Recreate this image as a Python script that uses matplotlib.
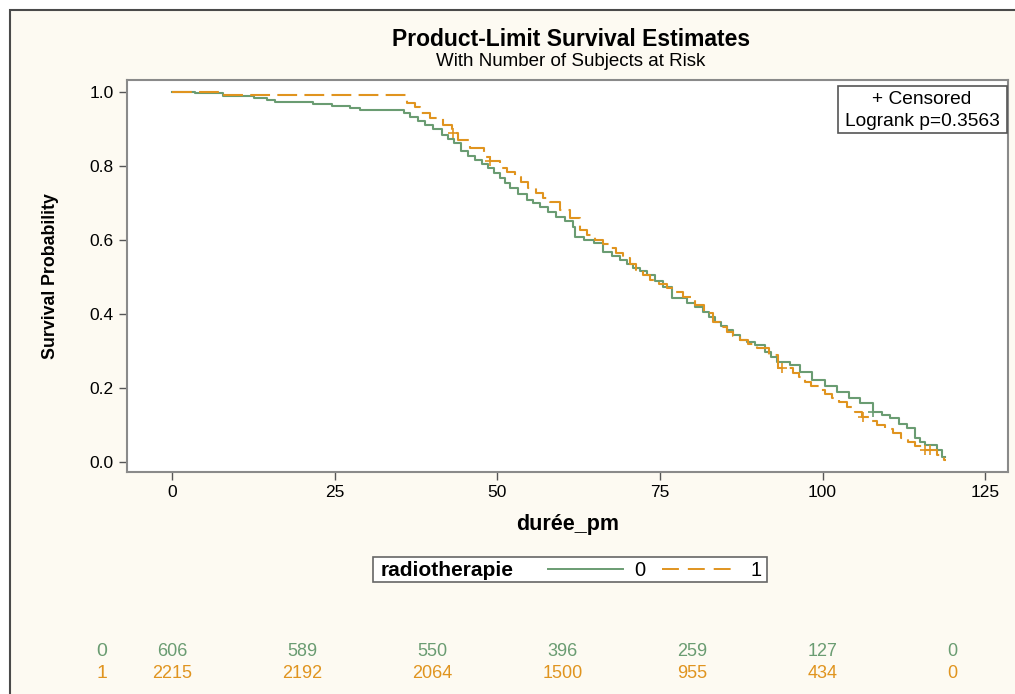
import numpy as np
import matplotlib.pyplot as plt
from matplotlib.patches import Rectangle
from matplotlib.lines import Line2D

# step data (time in months, survival)
t0 = [0, 3.6, 7.9, 12.6, 14.6, 15.8, 21.7, 24.6, 27.4, 28.9, 35.6, 36.6, 37.9, 38.9,
      40.2, 41.5, 42.4, 43.3, 44.5, 45.5, 46.6, 47.6, 48.6, 49.5, 50.4, 51.2, 52.0,
      53.2, 54.5, 55.5, 56.6, 57.8, 59.1, 60.4, 61.7, 62.0, 63.4, 64.8, 66.3, 67.6,
      68.9, 69.9, 70.9, 72.0, 73.0, 74.3, 75.5, 76.8, 79.1, 80.4, 81.7, 82.6, 83.5,
      84.4, 85.3, 86.3, 87.3, 88.4, 89.6, 91.2, 92.1, 93.0, 95.0, 96.6, 98.4, 100.4,
      102.2, 104.0, 105.8, 107.8, 109.1, 110.4, 111.7, 113.0, 114.2, 115.0, 115.8,
      117.6, 118.3, 118.8]
s0 = [1.0, 0.996, 0.990, 0.984, 0.977, 0.972, 0.968, 0.962, 0.957, 0.952, 0.943, 0.933,
      0.920, 0.911, 0.899, 0.884, 0.872, 0.861, 0.839, 0.828, 0.816, 0.805, 0.794, 0.780,
      0.767, 0.753, 0.740, 0.724, 0.708, 0.699, 0.690, 0.676, 0.663, 0.650, 0.636, 0.609,
      0.600, 0.591, 0.568, 0.557, 0.546, 0.535, 0.524, 0.515, 0.505, 0.490, 0.474, 0.444,
      0.429, 0.418, 0.406, 0.392, 0.379, 0.368, 0.357, 0.343, 0.330, 0.323, 0.316, 0.298,
      0.285, 0.271, 0.262, 0.244, 0.222, 0.204, 0.190, 0.172, 0.159, 0.136, 0.127, 0.118,
      0.104, 0.091, 0.064, 0.055, 0.046, 0.032, 0.014, 0.014]
t1 = [0, 7.9, 36.1, 37.4, 38.1, 39.7, 41.7, 43.0, 44.0, 45.8, 47.9, 48.9, 50.4, 51.5,
      52.7, 53.7, 54.8, 56.0, 57.1, 58.1, 59.7, 61.2, 62.7, 63.8, 65.0, 66.2, 67.3, 68.3,
      69.4, 70.4, 71.4, 72.4, 73.5, 74.8, 76.1, 77.3, 78.6, 80.4, 81.8, 83.2, 84.2, 85.3,
      86.3, 87.3, 88.6, 89.9, 91.7, 93.2, 95.5, 96.4, 97.3, 98.3, 99.4, 100.4, 101.4,
      102.5, 103.7, 105.0, 106.0, 107.2, 108.3, 109.6, 110.9, 112.0, 113.2, 114.2, 115.3,
      117.6, 118.6, 119.0]
s1 = [1.0, 0.992, 0.969, 0.960, 0.942, 0.929, 0.911, 0.888, 0.870, 0.848, 0.825, 0.812,
      0.794, 0.783, 0.771, 0.756, 0.740, 0.727, 0.713, 0.703, 0.681, 0.659, 0.627, 0.614,
      0.600, 0.589, 0.578, 0.565, 0.551, 0.535, 0.519, 0.505, 0.492, 0.481, 0.469, 0.458,
      0.447, 0.424, 0.402, 0.379, 0.366, 0.352, 0.341, 0.330, 0.318, 0.307, 0.289, 0.253,
      0.240, 0.229, 0.217, 0.206, 0.195, 0.184, 0.172, 0.161, 0.149, 0.136, 0.122, 0.111,
      0.100, 0.089, 0.078, 0.066, 0.055, 0.043, 0.032, 0.019, 0.005, 0.005]
cens0 = [107.8]
cens1 = [43.2, 48.9, 93.7, 106.2, 115.8, 116.5]

risk_times = [0, 20, 40, 60, 80, 100, 120]
risk0 = [606, 589, 550, 396, 259, 127, 0]
risk1 = [2215, 2192, 2064, 1500, 955, 434, 0]

green = '#6a9c72'
orange = '#e0941f'
cream = '#fdfaf2'

plt.rcParams['font.family'] = ['Liberation Sans', 'DejaVu Sans']

fig = plt.figure(figsize=(10.15, 6.94), dpi=100)
fig.patch.set_facecolor('white')
W, H = 1015.0, 694.0
fig.patches.append(Rectangle((10 / W, -0.1), 1.2, 1 - 10 / H + 0.1, transform=fig.transFigure,
                             facecolor=cream, edgecolor='#4a4a4a', linewidth=1.5, zorder=-10))

ax = fig.add_axes([127 / W, 1 - 472 / H, (1008 - 127) / W, (472 - 80) / H])
ax.set_facecolor('white')
ax.step(t0, s0, where='post', color=green, lw=1.5, label='0')
ax.step(t1, s1, where='post', color=orange, lw=1.5, dashes=(9.5, 3.5), label='1')


def surv_at(ts, ss, x):
    i = np.searchsorted(ts, x, side='right') - 1
    return ss[i]


ax.plot(cens0, [surv_at(t0, s0, c) for c in cens0], '+', color=green, ms=7, mew=1.2)
ax.plot(cens1, [surv_at(t1, s1, c) for c in cens1], '+', color=orange, ms=7, mew=1.2)

ax.set_xlim(-6.9, 128.5)
ax.set_ylim(-0.027, 1.032)
ax.set_xticks([0, 25, 50, 75, 100, 125])
ax.set_yticks([0.0, 0.2, 0.4, 0.6, 0.8, 1.0])
ax.set_yticklabels(['0.0', '0.2', '0.4', '0.6', '0.8', '1.0'])
ax.tick_params(labelsize=12.5, length=6, color='#555555', width=1)
for sp in ax.spines.values():
    sp.set_color('#8a8a8a')
    sp.set_linewidth(1.5)
ax.set_xlabel('durée_pm', fontsize=15.5, fontweight='bold', labelpad=10)
ax.set_ylabel('Survival Probability', fontsize=12.8, fontweight='bold', labelpad=22)

fig.text(571 / W, 1 - 39 / H, 'Product-Limit Survival Estimates', ha='center', va='center',
         fontsize=16.5, fontweight='bold')
fig.text(571 / W, 1 - 61 / H, 'With Number of Subjects at Risk', ha='center', va='center',
         fontsize=13.5)

# censored / logrank box
fig.patches.append(Rectangle((838 / W, 1 - 133 / H), 169 / W, 47 / H, transform=fig.transFigure,
                             facecolor='white', edgecolor='#555555', linewidth=1.2, zorder=5))
fig.text(922 / W, 1 - 100 / H, '+ Censored', ha='center', va='center', fontsize=13.8, zorder=6)
fig.text(922 / W, 1 - 121 / H, 'Logrank p=0.3563', ha='center', va='center', fontsize=13.8, zorder=6)

# group legend
fig.patches.append(Rectangle((373 / W, 1 - 582 / H), 394 / W, 25 / H, transform=fig.transFigure,
                             facecolor='white', edgecolor='#666666', linewidth=1.2))
fig.text(381 / W, 1 - 570 / H, 'radiotherapie', ha='left', va='center', fontsize=15,
         fontweight='bold')
fig.lines.append(Line2D([548 / W, 623 / W], [1 - 569 / H] * 2, transform=fig.transFigure,
                        color=green, lw=1.4))
fig.text(634 / W, 1 - 570 / H, '0', ha='left', va='center', fontsize=14.5)
fig.lines.append(Line2D([662 / W, 732 / W], [1 - 569 / H] * 2, transform=fig.transFigure,
                        color=orange, lw=1.4, dashes=(8.7, 4.6)))
fig.text(750 / W, 1 - 570 / H, '1', ha='left', va='center', fontsize=14.5)

# at-risk table
fig.text(102 / W, 1 - 651 / H, '0', ha='center', va='center', fontsize=14, color=green)
fig.text(102 / W, 1 - 673 / H, '1', ha='center', va='center', fontsize=14, color=orange)
for tt, a, b in zip(risk_times, risk0, risk1):
    xf = ax.transData.transform((tt, 0))[0] / fig.bbox.width
    fig.text(xf, 1 - 651 / H, str(a), ha='center', va='center', fontsize=13, color=green)
    fig.text(xf, 1 - 673 / H, str(b), ha='center', va='center', fontsize=13, color=orange)

fig.savefig('out.png', dpi=100, facecolor=fig.get_facecolor())
